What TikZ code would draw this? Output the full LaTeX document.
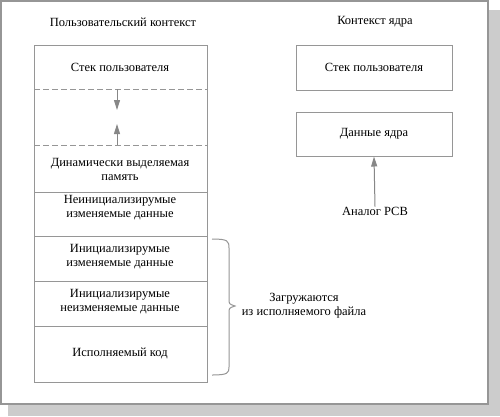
\documentclass[tikz,border=0pt]{standalone}
\usepackage{fontspec}
\setmainfont{Liberation Serif}
\newfontfamily\rfont{Liberation Serif}
\usetikzlibrary{arrows.meta}
\definecolor{lg}{RGB}{150,150,150}
\definecolor{ag}{RGB}{135,135,135}
\definecolor{sh}{RGB}{204,204,204}
\tikzset{
  lbl/.style={font=\rfont\fontsize{12.5}{14}\selectfont, align=center, inner sep=0pt},
  frame/.style={draw=lg, line width=1.4pt},
  box/.style={draw=lg, line width=1pt},
  dash line/.style={draw=lg, line width=1pt, dash pattern=on 6pt off 3pt},
  garrow/.style={draw=ag, line width=1pt, -{Triangle[length=10pt,width=6pt]}},
}
\begin{document}
\begin{tikzpicture}[x=1pt,y=-1pt]
\useasboundingbox (0,0) rectangle (500,416);
% shadow and frame
\fill[sh] (8,10) rectangle (500,416);
\draw[frame, fill=white] (1,1) rectangle (488,404);
% titles
\node[lbl] (tuser) at (123,22) {Пользовательский контекст};
\node[lbl] (tkern) at (375,22) {Контекст ядра};
% left column
\node[box, minimum width=173pt, minimum height=337pt, inner sep=0pt] (lbox) at (120.5,213.5) {};
\coordinate (d1l) at (34,89);  \coordinate (d1r) at (207,89);
\coordinate (d2l) at (34,145); \coordinate (d2r) at (207,145);
\coordinate (s1l) at (34,192); \coordinate (s1r) at (207,192);
\coordinate (s2l) at (34,236); \coordinate (s2r) at (207,236);
\coordinate (s3l) at (34,281); \coordinate (s3r) at (207,281);
\coordinate (s4l) at (34,326); \coordinate (s4r) at (207,326);
\draw[dash line] (d1l) -- (d1r);
\draw[dash line] (d2l) -- (d2r);
\draw[box] (s1l) -- (s1r);
\draw[box] (s2l) -- (s2r);
\draw[box] (s3l) -- (s3r);
\draw[box] (s4l) -- (s4r);
\coordinate (a1s) at (117,89);  \coordinate (a1e) at (117,110);
\coordinate (a2s) at (117,145); \coordinate (a2e) at (117,124);
\draw[garrow] (a1s) -- (a1e);
\draw[garrow] (a2s) -- (a2e);
\node[lbl] (stack) at (120,67) {Стек пользователя};
\node[lbl] (heap) at (120,169) {Динамически выделяемая\\память};
\node[lbl] (bss) at (120,208) {Неинициализирумые\\изменяемые данные};
\node[lbl] (data) at (120,257) {Инициализирумые\\изменяемые данные};
\node[lbl] (rodata) at (120,302) {Инициализирумые\\неизменяемые данные};
\node[lbl] (code) at (120,353) {Исполняемый код};
% brace
\draw[draw=lg, line width=1pt] (212,239) .. controls (228,239) and (229,241) .. (229,248) -- (229,299) .. controls (229,304) .. (235,306) .. controls (229,308) .. (229,313) -- (229,367) .. controls (229,373) and (228,375) .. (212,375);
\node[lbl] (load) at (304,306) {Загружаются\\из исполняемого файла};
% right column
\node[box, minimum width=156pt, minimum height=45pt, inner sep=0pt, font=\rfont\fontsize{12.5}{14}\selectfont] (kstack) at (374,67.5) {Стек пользователя};
\node[box, minimum width=156pt, minimum height=44pt, inner sep=0pt, font=\rfont\fontsize{12.5}{14}\selectfont] (kdata) at (374,134) {Данные ядра};
\node[lbl] (pcb) at (375,211) {Аналог PCB};
\draw[garrow] (pcb.north) -- (kdata.south);
\end{tikzpicture}
\end{document}
